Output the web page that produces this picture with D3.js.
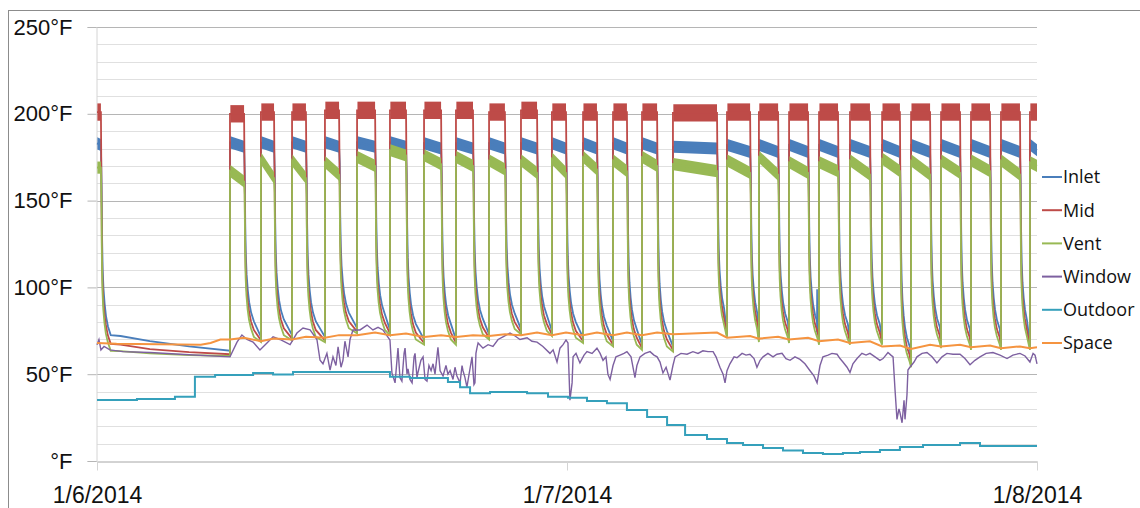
<!DOCTYPE html>
<html>
  <head>
    <meta charset="UTF-8" />
    <script src="https://cdn.jsdelivr.net/npm/d3@7"></script>
    <style>
      body { margin: 0; background: #fff; }
      svg { display: block; font-family: 'Open Sans', sans-serif; }
    </style>
  </head>
  <body>
    <svg></svg>
    <script>
      // hours since 1/6/2014 00:00
      const cycleOn = [0, 6.79, 8.37, 9.96, 11.64, 13.28, 14.96, 16.7, 18.33, 20.02, 21.65, 23.23, 24.82, 26.35, 27.83, 29.41, 32.17, 33.8, 35.34, 36.87, 38.45, 40.09, 41.57, 43.1, 44.63, 46.16, 47.64]
      const cycleOff = [0.2, 7.51, 9.04, 10.67, 12.36, 14.2, 15.78, 17.57, 19.2, 20.83, 22.47, 23.95, 25.53, 27.06, 28.6, 31.66, 33.35, 34.78, 36.31, 37.84, 39.47, 41.0, 42.54, 44.07, 45.6, 47.13, 48.0]
      // lowest vent temp just before each burner start
      const floorTemp = [null, 60.5, 68.5, 69.5, 68.5, 73.5, 72.5, 67, 67, 70, 73, 72, 68, 66, 64, 63, 71, 68.5, 68, 67, 67, 67, 54, 65, 64, 64, 64]

      const midLevel = [201, 200, 201, 201, 202, 202, 202, 202, 202, 201, 202, 201, 201, 201, 201, 200.5, 201, 201, 201, 201, 201, 201, 201, 201, 201, 201, 201]
      const inletStart = [183, 183.5, 183.5, 183.5, 183.5, 183.5, 183.5, 183, 183, 183, 183, 183, 183, 183, 183, 181, 182, 182, 182, 182, 182, 182, 182, 182, 182, 182, 182]
      const inletEnd = [182, 181, 181, 181, 181, 181, 181, 180, 180, 180, 180, 180, 180, 180, 180, 180, 178, 178, 178, 178, 178, 178, 178, 178, 178, 178, 179]
      const ventStart = [169, 167, 174, 173, 172, 175, 179, 176, 175, 173, 173, 174, 175, 173, 175, 171, 173, 175, 172, 172, 173, 174, 173, 173, 173, 173, 172]
      const ventEnd = [169, 161, 163, 163, 165, 170, 176, 171, 170, 168, 166, 166, 168, 167, 170, 167, 166, 165, 166, 167, 165, 167, 165, 166, 167, 165, 170]

      // noise half-width of the plateaus
      const midNoise = 5
      const inletNoise = 3.5
      const ventNoise = 3.5

      // cool-down after burner off: [hours after off, °F above next floor]
      const midDecay = [[0.03, 90], [0.05, 60], [0.08, 42], [0.12, 31], [0.18, 23], [0.25, 17], [0.35, 11], [0.5, 6], [1.0, 5.5], [2.5, 3], [4.5, 1.2]]
      const inletDecay = [[0.035, 95], [0.06, 65], [0.09, 47], [0.13, 36], [0.19, 27], [0.26, 20], [0.36, 14], [0.5, 9], [1.0, 8.5], [2.5, 5.5], [4.5, 2.5]]
      const ventDecay = [[0.03, 85], [0.05, 55], [0.08, 37], [0.12, 27], [0.18, 19], [0.25, 13], [0.35, 8], [0.5, 3], [1.0, 2.8], [2.5, 1.5], [4.5, 0.5]]
      // stray inlet reading during one cool-down
      const inletSpike = [[36.76, 74], [36.77, 99], [36.79, 73]]

      const windowTemp = [
        [0, 67], [0.1, 70], [0.2, 64], [0.36, 66], [0.66, 64], [1.33, 63], [2.71, 62.5], [4.24, 61.5], [6.79, 60],
        [7.15, 68.5], [7.4, 72.6], [7.66, 70], [7.97, 68.5], [8.32, 64], [8.68, 68], [8.99, 71.5], [9.34, 70], [9.86, 67],
        [10.21, 73.7], [10.52, 76.6], [10.88, 75.5], [11.23, 70], [11.39, 58], [11.54, 56], [11.74, 62], [11.9, 52.4],
        [12.05, 60], [12.2, 55], [12.31, 65.7], [12.46, 54], [12.56, 58], [12.66, 69], [12.82, 60], [12.92, 70],
        [13.07, 75.5], [13.43, 75.5], [13.79, 78.3], [14.09, 75.5], [14.35, 77], [14.6, 75.5], [14.96, 69.7],
        [15.06, 50.7], [15.22, 45], [15.37, 65], [15.47, 48], [15.57, 46], [15.68, 62], [15.73, 65], [15.83, 50],
        [15.88, 53], [15.98, 47], [16.09, 45], [16.19, 60], [16.24, 62], [16.34, 48], [16.39, 51], [16.54, 58],
        [16.65, 60], [16.75, 47], [16.85, 46], [16.95, 55], [17.06, 52], [17.16, 56], [17.26, 50], [17.41, 65.5],
        [17.52, 52], [17.67, 49], [17.82, 55], [17.92, 50], [18.03, 52], [18.18, 47], [18.28, 54], [18.38, 49],
        [18.54, 45], [18.64, 55], [18.69, 52], [18.79, 48], [18.89, 42.6], [19.0, 50], [19.15, 60], [19.25, 44],
        [19.3, 45], [19.35, 62], [19.4, 65], [19.46, 68], [19.71, 65], [19.97, 67], [20.22, 66], [20.48, 70],
        [20.73, 71.5], [21.09, 73.7], [21.35, 72], [21.6, 70], [21.96, 71], [22.21, 69], [22.47, 68.5], [22.77, 66],
        [23.13, 62], [23.29, 64], [23.49, 57], [23.64, 65], [23.8, 67], [23.95, 69.7], [24.05, 68], [24.15, 35],
        [24.26, 45], [24.31, 60], [24.46, 62], [24.66, 56.5], [24.87, 61], [25.02, 63], [25.28, 62], [25.53, 65],
        [25.69, 62], [25.84, 58], [25.99, 60], [26.09, 50], [26.2, 47], [26.35, 55], [26.5, 60], [26.71, 61],
        [26.91, 62], [27.06, 63], [27.27, 60], [27.47, 48], [27.57, 55], [27.73, 60], [27.98, 62], [28.24, 63],
        [28.44, 61], [28.6, 60], [28.75, 57], [28.9, 50.7], [29.06, 54], [29.26, 46.6], [29.41, 55], [29.52, 60],
        [29.82, 62], [30.13, 61.5], [30.43, 63], [30.69, 62], [30.94, 63.5], [31.2, 63], [31.46, 63], [31.61, 60],
        [31.81, 54], [31.97, 50], [32.07, 45], [32.17, 52], [32.32, 56], [32.53, 60], [32.68, 59.5], [32.94, 62],
        [33.14, 61], [33.34, 61.5], [33.55, 59], [33.7, 54], [33.86, 58], [34.01, 60], [34.26, 62], [34.52, 60],
        [34.72, 61.5], [34.98, 62], [35.18, 59], [35.39, 58], [35.64, 60], [35.9, 58.5], [36.15, 56], [36.41, 52],
        [36.61, 49], [36.77, 45], [36.92, 55], [37.07, 60], [37.33, 61], [37.53, 62], [37.79, 61.5], [37.94, 59],
        [38.09, 57], [38.3, 54], [38.45, 51], [38.6, 56], [38.81, 59], [39.06, 62], [39.27, 61], [39.47, 62],
        [39.73, 60], [39.98, 58], [40.14, 59], [40.39, 62.5], [40.54, 61], [40.65, 60], [40.75, 41], [40.85, 24],
        [40.95, 30], [41.0, 28], [41.11, 22], [41.21, 35], [41.26, 24], [41.36, 38], [41.41, 52.4], [41.51, 54],
        [41.72, 57], [41.87, 60], [42.13, 62], [42.38, 62.5], [42.64, 60], [42.89, 56.5], [43.15, 60], [43.4, 62],
        [43.71, 61.5], [44.07, 61.5], [44.32, 59], [44.58, 55.5], [44.83, 58], [45.09, 60], [45.4, 62], [45.75, 62.5],
        [46.11, 61], [46.47, 59], [46.77, 61], [47.13, 62], [47.39, 60.5], [47.64, 57], [47.8, 62], [47.9, 61], [48, 56]
      ]

      const outdoorTemp = [
        [0, 35.1], [2.04, 35.7], [3.98, 37], [5.0, 48.6], [6.03, 49.5], [7.97, 50.7], [8.99, 49.8], [10.01, 51.3],
        [14.96, 48.6], [15.98, 47.8], [17.92, 45.5], [18.54, 42.5], [19.05, 39], [20.07, 39.7], [21.96, 39],
        [23.03, 37], [24.05, 36.5], [25.02, 34.5], [26.04, 33.3], [27.06, 29.4], [28.09, 25.4], [29.11, 20.7],
        [30.03, 15], [31.15, 12.7], [32.17, 10.4], [32.99, 9.2], [34.01, 7.5], [35.03, 6], [36.05, 4.6], [37.07, 4],
        [38.09, 4.6], [38.96, 5.2], [39.98, 6.3], [41.0, 8], [42.18, 9.2], [44.07, 10.4], [45.09, 8.6], [48, 8.6]
      ]

      const spaceTemp = [
        [0, 68], [1.0, 67.5], [5.3, 67], [5.8, 68], [6.3, 70], [6.79, 70], [7.51, 71], [8.37, 69], [9.04, 70.5],
        [9.96, 70], [10.67, 71.5], [11.64, 71], [12.36, 72.5], [13.28, 72.5], [14.2, 74], [14.96, 72.5], [15.78, 73.5],
        [16.7, 71.5], [17.57, 72.5], [18.33, 71.5], [19.2, 72.5], [20.02, 72], [20.83, 73], [21.65, 72.5], [22.47, 74],
        [23.23, 72.5], [23.95, 74], [24.82, 72.5], [25.53, 74], [26.35, 72.5], [27.06, 74], [27.83, 72.5], [28.6, 74],
        [29.41, 73], [31.66, 74], [32.17, 71], [33.35, 72], [33.8, 70.5], [34.78, 71.5], [35.34, 70], [36.31, 71],
        [36.87, 69], [37.84, 70], [38.45, 68], [39.47, 69], [40.09, 66], [41.0, 66.5], [41.57, 64.5], [42.54, 67],
        [43.1, 66], [44.07, 67], [44.63, 65.5], [45.6, 66.5], [46.16, 65], [47.13, 66], [47.64, 65], [48, 65.5]
      ]

      const names = ['Inlet', 'Mid', 'Vent', 'Window', 'Outdoor', 'Space']
      const colors = ['#4a7ebb', '#be4b48', '#98b954', '#7d60a0', '#35a0bb', '#f59440']
      const yTicks = [0, 50, 100, 150, 200, 250]
      const dateTicks = ['2014-01-06', '2014-01-07', '2014-01-08']

      // 1. setup
      const width = 1140
      const height = 508
      const margin = { top: 27, right: 103, bottom: 47, left: 97 }
      const t0 = new Date(2014, 0, 6)
      const toDate = (h) => new Date(t0.getTime() + h * 36e5)
      const parse = (s) => { const [a, b, c] = s.split('-').map(Number); return new Date(a, b - 1, c) }

      const x = d3.scaleTime([t0, toDate(48)], [margin.left, width - margin.right])
      const y = d3.scaleLinear([0, 250], [height - margin.bottom, margin.top])

      const svg = d3.select('svg').attr('width', width).attr('height', height)

      svg.append('rect')
        .attr('x', 8.5).attr('y', 10.5).attr('width', width).attr('height', height)
        .attr('fill', '#fff').attr('stroke', '#8c8c8c')

      // 2. grid
      svg.append('g')
        .selectAll('line')
        .data(d3.range(10, 251, 10))
        .join('line')
        .attr('x1', margin.left).attr('x2', width - margin.right)
        .attr('y1', (d) => Math.round(y(d)) + 0.5).attr('y2', (d) => Math.round(y(d)) + 0.5)
        .attr('stroke', (d) => (d % 50 === 0 ? '#b5b5b5' : '#e0e0e0'))

      // 3. axes
      svg.append('g')
        .attr('transform', `translate(${margin.left - 0.5},0)`)
        .call(d3.axisLeft(y).tickValues(yTicks).tickSize(9).tickPadding(15)
          .tickFormat((d) => (d ? d + '°F' : '°F')))
        .call((g) => g.select('.domain').attr('stroke', '#d4d4d4'))
        .call((g) => g.selectAll('.tick line').attr('stroke', '#b5b5b5'))
        .call((g) => g.selectAll('text').attr('font-size', 22).attr('fill', '#111'))

      svg.append('g')
        .attr('transform', `translate(0,${Math.round(y(0)) + 0.5})`)
        .call(d3.axisBottom(x).tickValues(dateTicks.map(parse)).tickSize(9).tickSizeOuter(0).tickPadding(16)
          .tickFormat(d3.timeFormat('%-m/%-d/%Y')))
        .call((g) => g.select('.domain').attr('stroke', '#a6a6a6'))
        .call((g) => g.selectAll('.tick line').attr('stroke', '#d4d4d4'))
        .call((g) => g.selectAll('text').attr('font-size', 23).attr('fill', '#111'))

      // 4. series
      function cyclePoints(startArr, endArr, lift, decay) {
        const pts = []
        cycleOn.forEach((on, i) => {
          const off = cycleOff[i]
          if (i > 0) pts.push([on, floorTemp[i] + lift])
          pts.push([on, startArr[i]], [off, endArr[i]])
          if (i < cycleOn.length - 1) {
            const next = cycleOn[i + 1]
            decay.forEach(([dt, ex]) => {
              if (off + dt < next - 0.02) pts.push([off + dt, floorTemp[i + 1] + lift + ex])
            })
          }
        })
        return pts
      }

      const line = d3.line().x((d) => x(toDate(d[0]))).y((d) => y(d[1]))
      const stepLine = d3.line().curve(d3.curveStepAfter).x((d) => x(toDate(d[0]))).y((d) => y(d[1]))
      const band = (noise) => d3.area()
        .x((d) => x(toDate(d[0])))
        .y0((d) => y(d[1] - noise))
        .y1((d) => y(d[1] + noise))

      const plot = svg.append('g')

      const cycled = [
        { i: 0, start: inletStart, end: inletEnd, lift: 3, decay: inletDecay, noise: inletNoise },
        { i: 1, start: midLevel, end: midLevel, lift: 1, decay: midDecay, noise: midNoise },
        { i: 2, start: ventStart, end: ventEnd, lift: 0, decay: ventDecay, noise: ventNoise },
      ]

      cycled.forEach((s) => {
        const g = plot.append('g')
        g.selectAll('path.band')
          .data(cycleOn.map((on, k) => [[on + 0.02, s.start[k]], [cycleOff[k], s.end[k]]]))
          .join('path')
          .attr('class', 'band')
          .attr('fill', colors[s.i])
          .attr('d', band(s.noise))
        g.append('path')
          .attr('fill', 'none')
          .attr('stroke', colors[s.i])
          .attr('stroke-width', 1.8)
          .attr('d', line(cyclePoints(s.start, s.end, s.lift, s.decay)))
        if (s.i === 0) {
          g.append('path')
            .attr('fill', 'none')
            .attr('stroke', colors[0])
            .attr('stroke-width', 1.6)
            .attr('d', line(inletSpike))
        }
      })

      plot.append('path')
        .attr('fill', 'none').attr('stroke', colors[3]).attr('stroke-width', 1.4)
        .attr('d', line(windowTemp))

      plot.append('path')
        .attr('fill', 'none').attr('stroke', colors[4]).attr('stroke-width', 2)
        .attr('d', stepLine(outdoorTemp))

      plot.append('path')
        .attr('fill', 'none').attr('stroke', colors[5]).attr('stroke-width', 2)
        .attr('d', line(spaceTemp))

      // 5. legend
      const legend = svg.append('g')
        .selectAll('g')
        .data(names)
        .join('g')
        .attr('transform', (d, i) => `translate(1042,${177 + i * 33.2})`)
      legend.append('line').attr('x2', 20).attr('stroke', (d, i) => colors[i]).attr('stroke-width', 2)
      legend.append('text')
        .attr('x', 21).attr('dy', '0.35em')
        .attr('font-size', 18).attr('fill', '#111')
        .text((d) => d)
    </script>
  </body>
</html>
